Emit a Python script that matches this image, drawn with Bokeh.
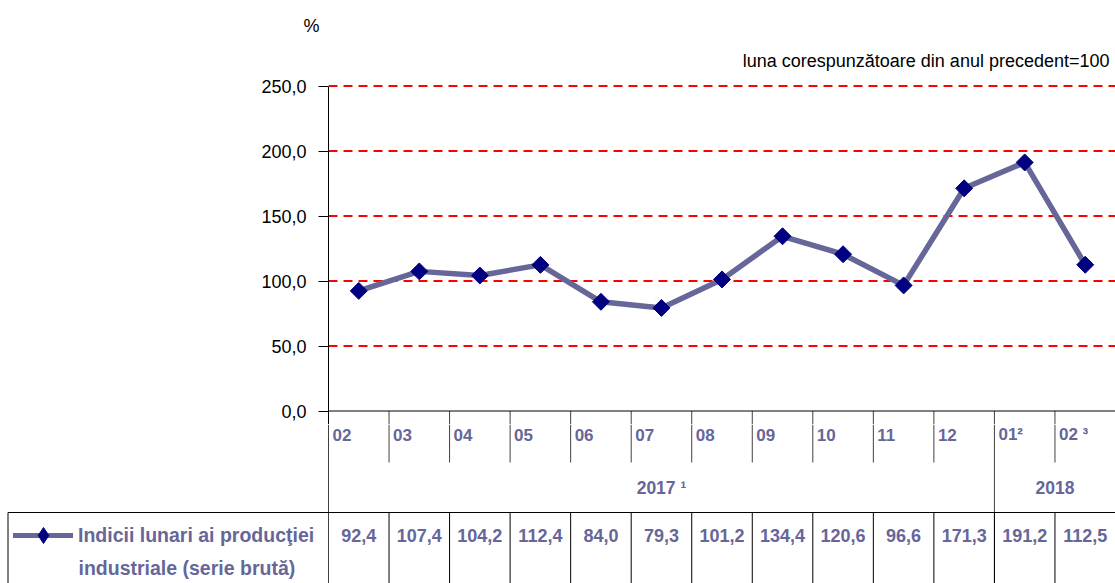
import math
from bokeh.plotting import figure
from bokeh.layouts import column
from bokeh.models import (Range1d, FixedTicker, Span, Legend, LegendItem, ColumnDataSource)
from bokeh.core.properties import value
from bokeh.embed import file_html
from bokeh.resources import INLINE

# ---------------- data ----------------
months = ["02", "03", "04", "05", "06", "07", "08", "09", "10", "11", "12", "01²", "02 ³"]
years = ["2017 ¹", "2018"]
months_per_year = [11, 2]
values = [92.4, 107.4, 104.2, 112.4, 84.0, 79.3, 101.2, 134.4, 120.6, 96.6, 171.3, 191.2, 112.5]
value_labels = ["92,4", "107,4", "104,2", "112,4", "84,0", "79,3", "101,2",
                "134,4", "120,6", "96,6", "171,3", "191,2", "112,5"]
series_line1 = "Indicii lunari ai producţiei"
series_line2 = "industriale (serie brută)"
yticks = [0, 50, 100, 150, 200, 250]
ytick_labels = ["0,0", "50,0", "100,0", "150,0", "200,0", "250,0"]
grid_ticks = [50, 100, 150, 200, 250]
unit_label = "%"
note = "luna corespunzătoare din anul precedent=100"

# ---------------- layout (canvas pixels) ----------------
W, H = 1115, 583
AXIS_X = 328                       # x of the value axis
HEAD_BOT = 72                      # header strip 0..HEAD_BOT
CHART_BOT = 424                    # chart strip HEAD_BOT..CHART_BOT
Y250_PX, Y0_PX = 85.5, 410.5
n = len(months)
px_x = (W - AXIS_X) / n
px_y = (Y0_PX - Y250_PX) / 250.0

def xcanvas(px):
    return (px - AXIS_X) / px_x

FONT = "Liberation Sans"
PURPLE = "#666699"
NAVY = "#000080"

def strip(height, **kw):
    f = figure(width=W, height=height, output_backend="svg", toolbar_location=None,
               x_axis_location=None, y_axis_location=None, frame_align=False,
               min_border_left=0, min_border_right=0, min_border_top=0, min_border_bottom=0,
               **kw)
    f.outline_line_color = None
    f.grid.visible = False
    f.background_fill_color = "white"
    f.border_fill_color = "white"
    return f

# ---------------- header ----------------
head = strip(HEAD_BOT, x_range=Range1d(xcanvas(0), n), y_range=Range1d(HEAD_BOT, 0))
head.text([xcanvas(311)], [25], text=[unit_label], text_font=value(FONT),
          text_font_size="18px", text_color="black", text_align="center",
          text_baseline="middle")
head.text([xcanvas(1109)], [60], text=[note], text_font=value(FONT),
          text_font_size="18px", text_color="black", text_align="right",
          text_baseline="middle")

# ---------------- chart ----------------
y_top = 250 + (Y250_PX - HEAD_BOT) / px_y
y_bot = -(CHART_BOT - Y0_PX) / px_y
p = figure(width=W, height=CHART_BOT - HEAD_BOT, output_backend="svg", toolbar_location=None,
           x_range=Range1d(0, n), y_range=Range1d(y_bot, y_top), frame_align=False,
           min_border_left=AXIS_X, min_border_right=0,
           min_border_top=0, min_border_bottom=0, x_axis_location=None)
p.outline_line_color = None
p.background_fill_color = "white"
p.border_fill_color = "white"
p.grid.visible = False

ax = p.yaxis[0]
ax.ticker = FixedTicker(ticks=yticks)
ax.bounds = (y_bot, 250)
ax.major_label_overrides = {t: l for t, l in zip(yticks, ytick_labels)}
ax.major_label_text_font = FONT
ax.major_label_text_font_size = "18px"
ax.major_label_text_color = "black"
ax.major_tick_in = 0
ax.major_tick_out = 10
ax.minor_tick_out = 0
ax.minor_tick_in = 0
ax.major_label_standoff = 12
ax.axis_line_color = "black"
ax.major_tick_line_color = "black"

# dashed red reference lines
p.segment(x0=[0] * len(grid_ticks), y0=grid_ticks, x1=[n] * len(grid_ticks), y1=grid_ticks,
          line_color="#FF0000", line_width=2, line_dash="9 6")
p.add_layout(Span(location=0, dimension="width", line_color="black", line_width=1))

xc = [i + 0.5 for i in range(n)]
src = ColumnDataSource(dict(x=xc, y=values))
p.line("x", "y", source=src, line_width=5.5, line_color=PURPLE, line_cap="round")
p.scatter("x", "y", source=src, marker="square", size=12, angle=math.pi / 4,
          fill_color=NAVY, line_color=NAVY)

year_bounds = []
acc = 0
for c in months_per_year:
    acc += c
    year_bounds.append(acc)
divs = list(range(1, n))
p.segment(x0=divs, y0=[0] * len(divs), x1=divs, y1=[y_bot] * len(divs),
          line_color="#404040", line_width=1)

# ---------------- table ----------------
t = strip(H - CHART_BOT, x_range=Range1d(xcanvas(0), n), y_range=Range1d(H, CHART_BOT))

MONTH_TICK_BOT, MONTH_Y, YEAR_Y, ROW_TOP, VAL_Y, LINE2_Y = 462, 434, 487, 512, 535, 567

sx, sy0, sy1 = [0], [CHART_BOT], [H]
for b in divs:
    sx.append(b)
    sy0.append(CHART_BOT)
    sy1.append(H if b in year_bounds else MONTH_TICK_BOT)
t.segment(x0=sx, y0=sy0, x1=sx, y1=sy1, line_color="#404040", line_width=1)

t.segment(x0=divs, y0=[ROW_TOP] * len(divs), x1=divs, y1=[H] * len(divs),
          line_color="black", line_width=1)
edge = xcanvas(7.5)
t.segment(x0=[edge, edge], y0=[ROW_TOP, ROW_TOP], x1=[n, edge], y1=[ROW_TOP, H],
          line_color="black", line_width=1)

t.text(list(range(n)), [MONTH_Y] * n, text=months, x_offset=4,
       text_font=value(FONT), text_font_style="bold", text_font_size="17px",
       text_color=PURPLE, text_align="left", text_baseline="middle")

ycent = []
start = 0
for c in months_per_year:
    ycent.append(start + c / 2)
    start += c
t.text(ycent, [YEAR_Y] * len(years), text=years, text_font=value(FONT),
       text_font_style="bold", text_font_size="17.5px", text_color=PURPLE,
       text_align="center", text_baseline="middle")

t.text(xc, [VAL_Y] * n, text=value_labels, text_font=value(FONT),
       text_font_style="bold", text_font_size="18px", text_color=PURPLE,
       text_align="center", text_baseline="middle")

# legend key (renderers whose points lie outside the visible table rows)
lsrc = ColumnDataSource(dict(x=xc, y=values))
k_line = t.line("x", "y", source=lsrc, line_width=5, line_color=PURPLE, line_cap="round")
k_mark = t.scatter("x", "y", source=lsrc, marker="diamond", size=16,
                   fill_color=NAVY, line_color=NAVY)
legend = Legend(items=[LegendItem(label=series_line1, renderers=[k_line, k_mark])],
                location=(13, H - (VAL_Y + 20)),
                glyph_width=60, glyph_height=40, label_standoff=5,
                padding=0, margin=0, spacing=0,
                border_line_color=None, background_fill_alpha=0,
                label_text_font=FONT, label_text_font_style="bold",
                label_text_font_size="19.5px", label_text_color=PURPLE)
t.add_layout(legend)
t.text([xcanvas(78)], [LINE2_Y], text=[series_line2], text_font=value(FONT),
       text_font_style="bold", text_font_size="19.5px", text_color=PURPLE,
       text_align="left", text_baseline="middle")

layout = column(head, p, t, spacing=0)
open("out.html", "w").write(file_html(layout, INLINE))
